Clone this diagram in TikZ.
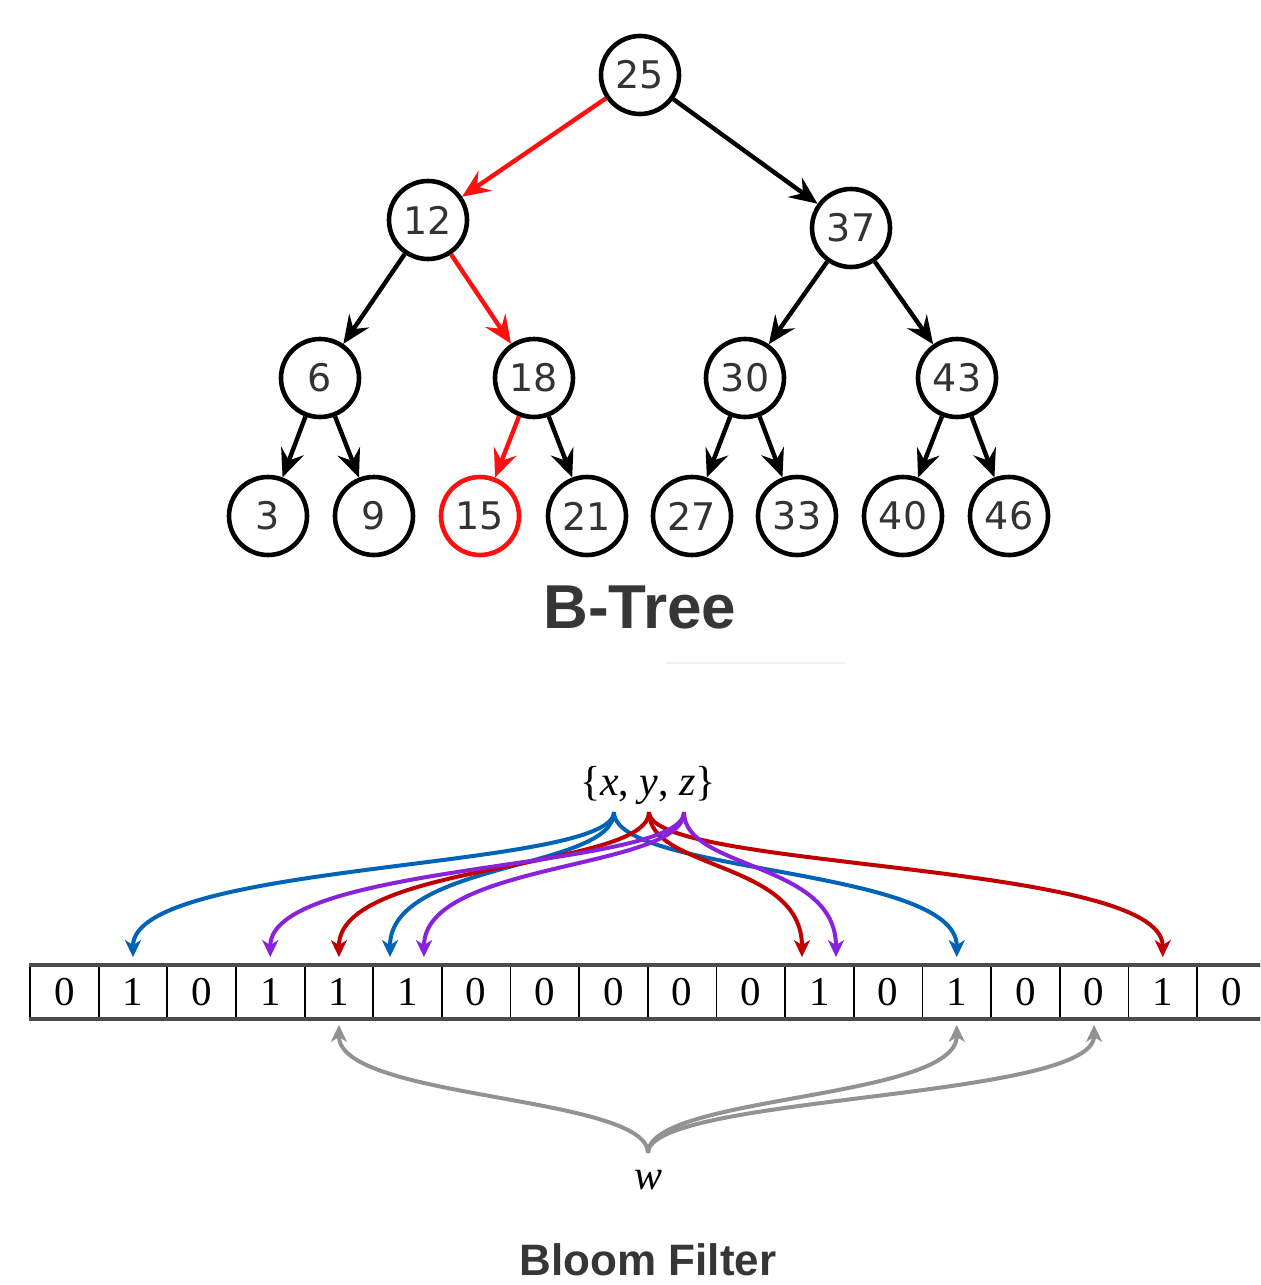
\documentclass[tikz,border=0pt]{standalone}
\usepackage{fontspec}
\setmainfont{Liberation Serif}
\newfontfamily\treefont{DejaVu Sans}
\newfontfamily\titlefont{Liberation Sans}
\usetikzlibrary{arrows.meta,calc}
\definecolor{bblue}{HTML}{0063B8}
\definecolor{bred}{HTML}{C00000}
\definecolor{bpurple}{HTML}{8A22DC}
\definecolor{bgray}{HTML}{929292}
\definecolor{ttl}{HTML}{363636}
\definecolor{tred}{HTML}{FF1010}
\tikzset{
  tnode/.style={circle, draw, line width=2.3pt, minimum size=39pt, inner sep=0pt,
    font=\treefont\fontsize{19}{19}\selectfont, text=black!80},
  tedge/.style={line width=2.2pt, -{Stealth[length=14pt,width=12pt,inset=5pt]}},
  hotedge/.style={tedge, draw=tred, color=tred},
  cell/.style={draw, line width=0.9pt, minimum width=34.32pt, minimum height=26pt,
    inner sep=0pt, font=\fontsize{20.5}{20.5}\selectfont},
  barrow/.style={line width=2pt, -{Stealth[length=8.5pt,width=8pt,inset=2.5pt]}},
  ttext/.style={font=\titlefont\bfseries\fontsize{31}{31}\selectfont, text=ttl, inner sep=0pt, anchor=base},
  mtext/.style={font=\fontsize{21}{21}\selectfont, inner sep=0pt}
}
\begin{document}
\begin{tikzpicture}[x=0.5pt,y=-0.5pt]
\useasboundingbox (0,0) rectangle (1260,1285);
\clip (0,0) rectangle (1260,1285);
\fill[white] (0,0) rectangle (1260,1285);

% ---------- B-Tree ----------
\node[tnode] (n25) at (640,75) {25};
\node[tnode] (n12) at (428,220) {12};
\node[tnode] (n37) at (851,228) {37};
\node[tnode] (n6)  at (320,378) {6};
\node[tnode] (n18) at (534,378) {18};
\node[tnode] (n30) at (745,378) {30};
\node[tnode] (n43) at (957,378) {43};
\node[tnode] (n3)  at (268,516) {3};
\node[tnode] (n9)  at (374,516) {9};
\node[tnode, draw=tred] (n15) at (480,516) {15};
\node[tnode] (n21) at (587,516) {21};
\node[tnode] (n27) at (692,516) {27};
\node[tnode] (n33) at (797,516) {33};
\node[tnode] (n40) at (903,516) {40};
\node[tnode] (n46) at (1009,516) {46};

\draw[hotedge] (n25) -- (n12);
\draw[tedge] (n25) -- (n37);
\draw[tedge] (n12) -- (n6);
\draw[hotedge] (n12) -- (n18);
\draw[tedge] (n37) -- (n30);
\draw[tedge] (n37) -- (n43);
\draw[tedge] (n6) -- (n3);
\draw[tedge] (n6) -- (n9);
\draw[hotedge] (n18) -- (n15);
\draw[tedge] (n18) -- (n21);
\draw[tedge] (n30) -- (n27);
\draw[tedge] (n30) -- (n33);
\draw[tedge] (n43) -- (n40);
\draw[tedge] (n43) -- (n46);

\node[ttext] (t1) at (640,628) {B-Tree};
\draw[line width=1pt, black!6] (665,663) -- (845,663);

% ---------- Bloom filter ----------
\foreach \v [count=\i from 0] in {0,1,0,1,1,1,0,0,0,0,0,1,0,1,0,0,1,0}
  \node[cell] (c\i) at ({30+68.65*(\i+0.5)},992) {\v};
\draw[line width=1.8pt, black!70] (c0.north west) -- (c17.north east);
\draw[line width=1.8pt, black!70] (c0.south west) -- (c17.south east);

\node[mtext] (xyz) at (648,785) {\{\textit{x}, \textit{y}, \textit{z}\}};
\coordinate (sb) at (614,812);
\coordinate (sr) at (649,812);
\coordinate (sp) at (684,812);

% blue
\draw[barrow, bblue] (sb) .. controls +(0,58) and +(0,-96) .. ([yshift=4pt]c1.north);
\draw[barrow, bblue] (sb) .. controls +(0,58) and +(0,-96) .. ([xshift=-8.8pt,yshift=4pt]c5.north);
\draw[barrow, bblue] (sb) .. controls +(0,62) and +(0,-90) .. ([yshift=4pt]c13.north);
% red
\draw[barrow, bred] (sr) .. controls +(0,58) and +(0,-96) .. ([yshift=4pt]c4.north);
\draw[barrow, bred] (sr) .. controls +(0,58) and +(0,-96) .. ([xshift=-8.75pt,yshift=4pt]c11.north);
\draw[barrow, bred] (sr) .. controls +(0,58) and +(0,-96) .. ([yshift=4pt]c16.north);
% purple
\draw[barrow, bpurple] (sp) .. controls +(0,58) and +(0,-96) .. ([yshift=4pt]c3.north);
\draw[barrow, bpurple] (sp) .. controls +(0,58) and +(0,-96) .. ([xshift=8.2pt,yshift=4pt]c5.north);
\draw[barrow, bpurple] (sp) .. controls +(0,58) and +(0,-96) .. ([xshift=8.25pt,yshift=4pt]c11.north);

% gray (w)
\node[mtext] (w) at (648,1180) {\textit{w}};
\coordinate (ws) at (648,1153);
\draw[barrow, bgray] (ws) .. controls +(0,-58) and +(0,75) .. ([yshift=-3pt]c4.south);
\draw[barrow, bgray] (ws) .. controls +(0,-58) and +(0,75) .. ([yshift=-3pt]c13.south);
\draw[barrow, bgray] (ws) .. controls +(0,-58) and +(0,75) .. ([yshift=-3pt]c15.south);

\node[ttext, font=\titlefont\bfseries\fontsize{22}{22}\selectfont] (t2) at (648,1275) {Bloom Filter};
\end{tikzpicture}
\end{document}
